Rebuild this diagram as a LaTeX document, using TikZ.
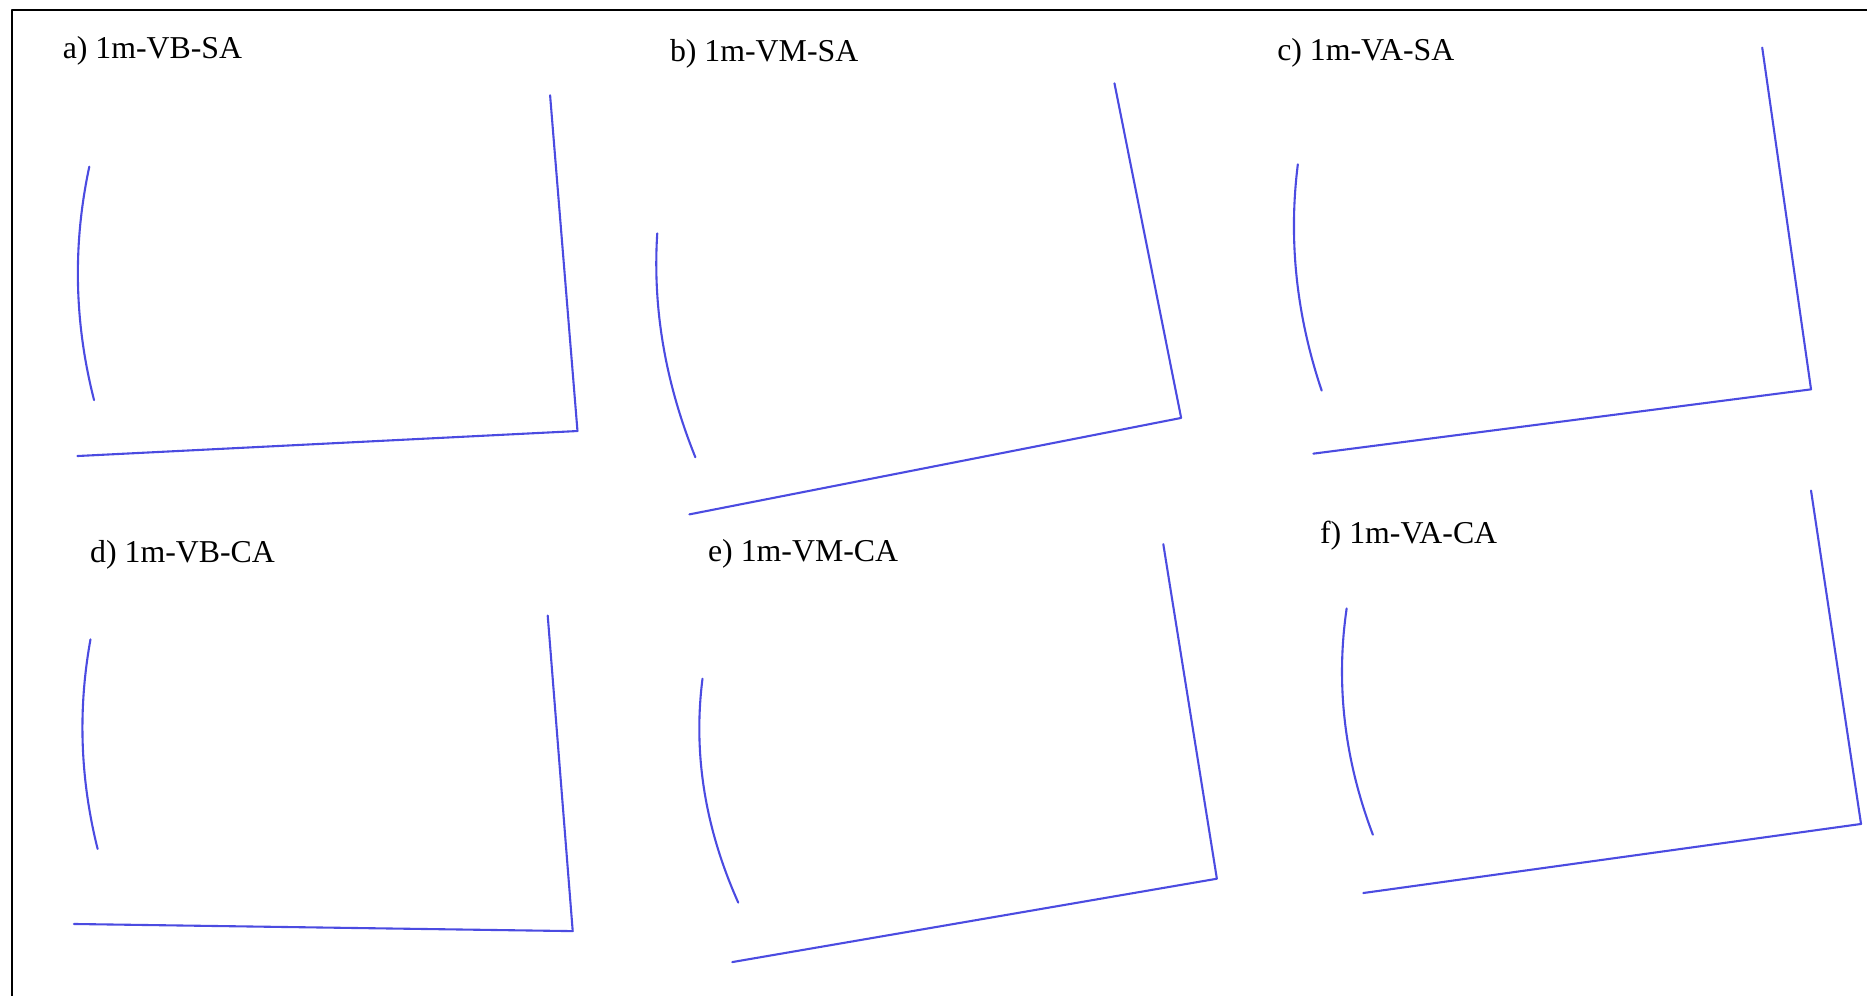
\documentclass[tikz,border=0pt]{standalone}
\usepackage{fontspec}
\setmainfont{Liberation Serif}
\usepackage{tikz}
\definecolor{traceblue}{RGB}{75,75,225}

\begin{document}
\begin{tikzpicture}[line cap=round,line join=round,x=0.01cm,y=-0.01cm,
  trace/.style={color=traceblue,line width=0.5pt},
  panellabel/.style={anchor=west,inner sep=0pt,font=\fontsize{7.6}{9}\selectfont}]
\useasboundingbox (0,0) rectangle (1568,836);
\draw[color=black,line width=0.6pt] (10,840) -- (10,8.4) -- (1572,8.4);
% a) 1m-VB-SA
\node[panellabel] (la) at (52,43) {a) 1m-VB-SA};
\draw[trace] (75,140) .. controls (61,205.3) and (62.3,270.7) .. (79,336);
\draw[trace] (462,80) -- (485,362) -- (65,383);
% b) 1m-VM-SA
\node[panellabel] (lb) at (562,45) {b) 1m-VM-SA};
\draw[trace] (552,196) .. controls (548,258.7) and (558.7,321.3) .. (584,384);
\draw[trace] (936,70) -- (992,351) -- (579,432);
% c) 1m-VA-SA
\node[panellabel] (lc) at (1072,44) {c) 1m-VA-SA};
\draw[trace] (1090,138) .. controls (1082,201.3) and (1088.7,264.7) .. (1110,328);
\draw[trace] (1480,40) -- (1521,327) -- (1103,381);
% d) 1m-VB-CA
\node[panellabel] (ld) at (75,466) {d) 1m-VB-CA};
\draw[trace] (76,537) .. controls (65.3,595.7) and (67.3,654.3) .. (82,713);
\draw[trace] (460,517) -- (481,782) -- (62,776);
% e) 1m-VM-CA
\node[panellabel] (le) at (594,465) {e) 1m-VM-CA};
\draw[trace] (590,570) .. controls (582,632.7) and (592,695.3) .. (620,758);
\draw[trace] (977,457) -- (1022,738) -- (615,808);
% f) 1m-VA-CA
\node[panellabel] (lf) at (1108,450) {f) 1m-VA-CA};
\draw[trace] (1131,511) .. controls (1121.7,574.3) and (1129,637.7) .. (1153,701);
\draw[trace] (1521,412) -- (1563,692) -- (1145,750);
\end{tikzpicture}
\end{document}
